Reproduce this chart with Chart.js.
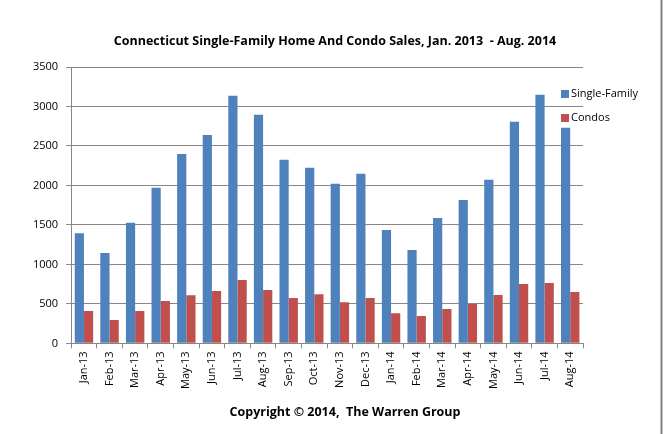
<!DOCTYPE html>
<html lang="en">
<head>
    <meta charset="UTF-8">
    <title>Connecticut Single-Family Home And Condo Sales</title>
    <script src="https://cdn.jsdelivr.net/npm/chart.js"></script>
    <style>
        body { margin: 0; background: #fff; }
        canvas { display: block; }
    </style>
</head>
<body>
    <canvas id="salesChart" width="663" height="434"></canvas>
    <script>
        const months = ['Jan-13', 'Feb-13', 'Mar-13', 'Apr-13', 'May-13', 'Jun-13', 'Jul-13', 'Aug-13', 'Sep-13', 'Oct-13',
            'Nov-13', 'Dec-13', 'Jan-14', 'Feb-14', 'Mar-14', 'Apr-14', 'May-14', 'Jun-14', 'Jul-14', 'Aug-14'];
        const singleFamily = [1395, 1145, 1526, 1970, 2397, 2638, 3136, 2895, 2325, 2223,
            2020, 2147, 1437, 1183, 1589, 1817, 2071, 2806, 3149, 2730];
        const condos = [410, 296, 410, 537, 609, 663, 803, 676, 575, 621,
            520, 575, 380, 346, 435, 498, 612, 752, 765, 651];
        const yTicks = [0, 500, 1000, 1500, 2000, 2500, 3000, 3500];

        const chartTitle = 'Connecticut Single-Family Home And Condo Sales, Jan. 2013  - Aug. 2014';
        const footer = 'Copyright \u00A9 2014,  The Warren Group';

        const font = "'Open Sans', 'Noto Sans', sans-serif";
        const gridColor = '#878787';

        // title, footer and legend drawn by hand so they sit where Excel put them
        const decorations = {
            id: 'decorations',
            afterDraw(chart) {
                const ctx = chart.ctx;
                ctx.save();
                ctx.fillStyle = '#000';
                ctx.textAlign = 'center';
                ctx.textBaseline = 'middle';
                ctx.font = 'bold 12.5px ' + font;
                ctx.fillText(chartTitle, 335, 41);
                ctx.fillText(footer, 345, 412);

                ctx.textAlign = 'left';
                ctx.font = '11px ' + font;
                chart.data.datasets.forEach((ds, i) => {
                    const y = 94 + i * 24;
                    ctx.fillStyle = ds.backgroundColor;
                    ctx.fillRect(561, y - 4, 8, 8);
                    ctx.fillStyle = '#000';
                    ctx.fillText(ds.label, 571, y);
                });
                // right hand frame line
                ctx.strokeStyle = '#808080';
                ctx.lineWidth = 2;
                ctx.beginPath();
                ctx.moveTo(chart.width - 1.5, 0);
                ctx.lineTo(chart.width - 1.5, chart.height);
                ctx.stroke();
                ctx.restore();
            }
        };

        new Chart(document.getElementById('salesChart').getContext('2d'), {
            type: 'bar',
            data: {
                labels: months,
                datasets: [{
                    label: 'Single-Family',
                    data: singleFamily,
                    backgroundColor: '#4F81BD',
                    categoryPercentage: 0.72,
                    barPercentage: 1.0
                }, {
                    label: 'Condos',
                    data: condos,
                    backgroundColor: '#C0504D',
                    categoryPercentage: 0.72,
                    barPercentage: 1.0
                }]
            },
            options: {
                responsive: false,
                animation: false,
                layout: { padding: { left: 25, right: 80, top: 67, bottom: 42 } },
                plugins: {
                    legend: { display: false },
                    tooltip: { enabled: false },
                    title: { display: false }
                },
                scales: {
                    x: {
                        grid: {
                            display: true,
                            drawOnChartArea: false,
                            drawTicks: true,
                            tickLength: 5,
                            color: gridColor
                        },
                        border: { color: gridColor },
                        ticks: {
                            color: '#000',
                            font: { family: font, size: 11 },
                            minRotation: 90,
                            maxRotation: 90,
                            autoSkip: false,
                            padding: 3
                        }
                    },
                    y: {
                        min: 0,
                        max: 3500,
                        afterBuildTicks(axis) {
                            axis.ticks = yTicks.map(v => ({ value: v }));
                        },
                        grid: {
                            color: gridColor,
                            tickLength: 5
                        },
                        border: { color: gridColor },
                        ticks: {
                            color: '#000',
                            font: { family: font, size: 11 },
                            padding: 8,
                            callback: v => String(v)
                        }
                    }
                }
            },
            plugins: [decorations]
        });
    </script>
</body>
</html>
